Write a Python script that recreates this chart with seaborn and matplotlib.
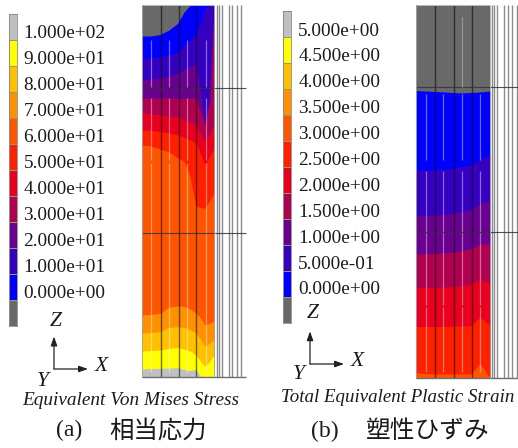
import numpy as np
import matplotlib
matplotlib.use("Agg")
import matplotlib.pyplot as plt
from matplotlib.colors import ListedColormap
import seaborn as sns

# ── Data ──────────────────────────────────────────────────────────────────────
stress_levels = [100, 90, 80, 70, 60, 50, 40, 30, 20, 10, 0, -10]
stress_labels = ["1.000e+02", "9.000e+01", "8.000e+01", "7.000e+01", "6.000e+01", "5.000e+01",
                 "4.000e+01", "3.000e+01", "2.000e+01", "1.000e+01", "0.000e+00"]
strain_levels = [5.0, 4.5, 4.0, 3.5, 3.0, 2.5, 2.0, 1.5, 1.0, 0.5, 0.0, -0.5]
strain_labels = ["5.000e+00", "4.500e+00", "4.000e+00", "3.500e+00", "3.000e+00", "2.500e+00",
                 "2.000e+00", "1.500e+00", "1.000e+00", "5.000e-01", "0.000e+00"]

# colours, top of the legend first
band_colors = ["#c0c0c0", "#ffff00", "#ffc000", "#ff9000", "#ff5500", "#ff2000",
               "#e8001e", "#b00050", "#6a0090", "#3500c0", "#0000ff", "#696969"]

# contour boundaries of the stress plot
stress_x = [142, 151, 160, 169, 178, 184, 190, 196, 201, 205, 210, 214]
stress_b0 = [36, 36, 34.5, 30, 23, 12, 5.5, 5.5, 5.5, 5.5, 5.5, 5.5]
stress_b10 = [59, 58, 57, 55, 52, 46, 40, 34, 22, 8, 5.5, 5.5]
stress_b20 = [80, 79, 78, 76, 73, 70, 67, 64, 95, 122, 95, 5.5]
stress_b30 = [98, 98, 98, 98, 98.5, 98.5, 98, 98, 113, 126, 100, 8]
stress_b40 = [113, 114, 115, 116, 117, 120, 122.5, 125, 134, 141, 133, 125]
stress_b50 = [130, 130.5, 131.5, 133, 135, 137.5, 140, 143, 155, 164.5, 155, 148]
stress_b60 = [145, 146, 149, 152, 158, 161, 177, 206, 208, 208, 200, 193]
stress_b70 = [315, 314.5, 313.5, 307, 306, 306.5, 309, 313, 319, 325, 323, 321]
stress_b80 = [333, 332.5, 331.7, 327.5, 326.7, 327.5, 329.5, 333, 340, 346.5, 343, 340]
stress_b90 = [351, 350.5, 350, 348.5, 347.5, 349, 351, 355, 362, 366.5, 361, 355]
stress_b100 = [369, 368.5, 368.3, 368, 367.7, 369.5, 370.5, 369.5, 377, 377, 377, 377]

# contour boundaries of the strain plot
strain_x = [416, 425, 435, 444, 453, 462, 471, 480, 490]
strain_b0 = [90.5, 91, 91.5, 92, 92.5, 93, 92.5, 92, 91]
strain_b05 = [170.5, 170.5, 170, 169.3, 168.3, 166.7, 165, 159.5, 155]
strain_b10 = [216, 215.7, 215, 214.3, 213.3, 211.7, 210, 203.5, 200.7]
strain_b15 = [254.3, 254, 253.3, 252.8, 252.3, 250.7, 249, 244, 244.3]
strain_b20 = [287.7, 287.5, 287.3, 287, 286.7, 285.5, 284.3, 279.3, 283.3]
strain_b25 = [326.7, 326.5, 326.5, 326.3, 326, 326, 325.7, 317.3, 325]
strain_b30 = [372.7, 373.5, 374, 374, 374, 374, 374, 363.5, 378]

# ── Setup ─────────────────────────────────────────────────────────────────────
sns.set_theme(style="white")
plt.rcParams["font.family"] = ["Liberation Serif", "DejaVu Serif"]
W, H = 518, 448
fig = plt.figure(figsize=(W / 100, H / 100), dpi=100, facecolor="white")
canvas = fig.add_axes([0, 0, 1, 1])
canvas.set_xlim(0, W)
canvas.set_ylim(H, 0)
canvas.axis("off")

SERIF = ["Liberation Serif"]
CJK = ["Noto Sans CJK JP", "DejaVu Sans"]


def legend_bar(levels, left, top, bottom):
    ax = fig.add_axes([left / W, 1 - bottom / H, 7.7 / W, (bottom - top) / H])
    cmap = ListedColormap(band_colors[::-1])
    sns.heatmap(np.array(levels, dtype=float).reshape(-1, 1), ax=ax, cmap=cmap, cbar=False,
                vmin=min(levels) - (levels[0] - levels[1]) / 2,
                vmax=max(levels) + (levels[0] - levels[1]) / 2,
                xticklabels=False, yticklabels=False, linewidths=0.4, linecolor="#9a9a70")
    for s in ax.spines.values():
        s.set_visible(True)
        s.set_color("#8a8a8a")
        s.set_linewidth(0.6)


def legend_text(labels, x, y0, step):
    for i, lab in enumerate(labels):
        canvas.text(x, y0 + i * step, lab, fontsize=13.9, color="#1a1a1a", va="center", ha="left",
                    family=SERIF)


def contour(xs, boundaries, top, bottom, colors):
    # painter style: every band runs down to the bottom, the next one covers it
    canvas.fill_between(xs, top, bottom, color=colors[0], lw=0)
    for b, c in zip(boundaries, colors[1:]):
        canvas.fill_between(xs, b, bottom, color=c, lw=0)


def mesh(left, right, top, bottom, black_x, white_x, white_runs, grey_x, line_y, line_end):
    for x in white_x:
        for y0, y1 in white_runs:
            canvas.plot([x, x], [y0, y1], color="white", lw=0.9, alpha=0.42, solid_capstyle="butt")
    canvas.vlines(black_x, top, bottom, color="black", lw=1.0, alpha=0.55)
    canvas.vlines(grey_x, top, bottom, color="#8c8c8c", lw=1.0)
    canvas.hlines(line_y, left, line_end, color="#333333", lw=0.8, alpha=0.85)
    canvas.hlines(bottom, left, line_end, color="#6e6e6e", lw=1.0)
    canvas.vlines([left, right], top, bottom, color="#a8a8a8", lw=0.6)
    canvas.hlines(top, left, right, color="#c8c8c8", lw=0.6)


def triad(ox, oy, x_tip, z_tip, z_pos, x_pos, y_pos):
    for tip in [(x_tip, oy), (ox, z_tip)]:
        canvas.annotate("", xy=tip, xytext=(ox, oy),
                        arrowprops=dict(arrowstyle="-|>,head_width=0.16,head_length=0.45",
                                        color="#222222", lw=0.9, shrinkA=0, shrinkB=0))
    for lab, pos in zip("ZXY", [z_pos, x_pos, y_pos]):
        canvas.text(pos[0], pos[1], lab, fontsize=15.5, style="italic", color="#1a1a1a",
                    ha="center", va="center", family=SERIF)


# ── Panel (a) ─────────────────────────────────────────────────────────────────
legend_bar(stress_levels, 9, 14, 325.7)
legend_text(stress_labels, 23.5, 34, 25.9)
contour(stress_x,
        [stress_b0, stress_b10, stress_b20, stress_b30, stress_b40, stress_b50,
         stress_b60, stress_b70, stress_b80, stress_b90, stress_b100],
        5.5, 377, band_colors[::-1])
mesh(142, 214, 5.5, 377,
     [160.7, 178.7, 196.3], [150.7, 169, 187.3, 205.7],
     [(40, 87), (98, 160), (163, 372)],
     [217, 219, 221.7, 228.7, 232.3, 237.3, 241], [88, 233], 246)
triad(54, 369, 88, 336.5, (56, 321), (101, 366.5), (43, 381))
canvas.text(130.5, 400.7, "Equivalent Von Mises Stress", fontsize=13.85, style="italic",
            color="#1a1a1a", ha="center", va="center", family=SERIF)
canvas.text(69.5, 430.5, "(a)", fontsize=17, color="#1a1a1a", ha="center", va="center", family=SERIF)
canvas.text(158.5, 430.5, "相当応力", fontsize=17.6, color="#1a1a1a", ha="center", va="center", family=CJK)

# ── Panel (b) ─────────────────────────────────────────────────────────────────
legend_bar(strain_levels, 283.3, 11, 323)
legend_text(strain_labels, 298.3, 31, 25.9)
contour(strain_x,
        [strain_b0, strain_b05, strain_b10, strain_b15, strain_b20, strain_b25, strain_b30],
        5, 378, band_colors[::-1][:8])
mesh(416, 490, 5, 378,
     [435, 453.7, 471.7], [425.7, 443.3, 461.7, 480],
     [(94, 160), (171, 305), (307, 372)],
     [491.7, 494, 496.7, 504, 507.7, 512.3, 517], [87.5, 232.3], 518)
canvas.plot([461.7, 461.7], [17, 87], color="white", lw=0.9, alpha=0.3)
triad(310, 364, 344, 331.3, (312.3, 313.3), (357, 361), (299, 374.7))
canvas.text(398, 397.3, "Total Equivalent Plastic Strain", fontsize=13.6, style="italic",
            color="#1a1a1a", ha="center", va="center", family=SERIF)
canvas.text(325, 431, "(b)", fontsize=17, color="#1a1a1a", ha="center", va="center", family=SERIF)
canvas.text(427.5, 431, "塑性ひずみ", fontsize=17.8, color="#1a1a1a", ha="center", va="center", family=CJK)

fig.savefig("out.png", dpi=100)
